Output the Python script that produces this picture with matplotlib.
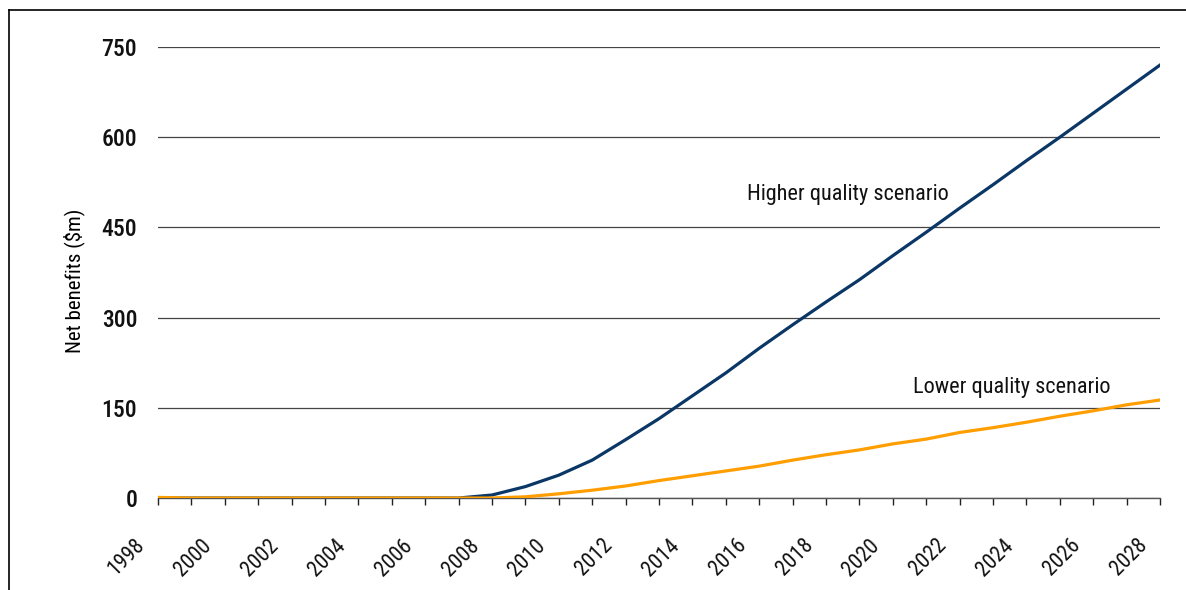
import matplotlib
matplotlib.use("Agg")
import matplotlib.pyplot as plt
from matplotlib.lines import Line2D
from matplotlib.transforms import ScaledTranslation

years = list(range(1998, 2029))

# net benefits by year, $m
higher_quality = [0, 0, 0, 0, 0, 0, 0, 0, 0, 0,
                  5, 19, 38, 63, 97, 132, 170, 208, 249, 288,
                  326, 363, 403, 442, 482, 521, 561, 600, 640, 680, 720]
lower_quality = [1, 0, 0, 0, 0, 0, 0, 0, 0, 0,
                 0, 2, 7, 13, 20, 29, 37, 45, 53, 63,
                 72, 80, 90, 98, 109, 117, 126, 136, 145, 155, 163]

y_ticks = [0, 150, 300, 450, 600, 750]
x_labels = [str(y) if (y - 1998) % 2 == 0 else "" for y in years]

plt.rcParams["font.family"] = ["Roboto Condensed", "DejaVu Sans"]

fig = plt.figure(figsize=(11.86, 5.9), dpi=100)
ax = fig.add_axes([0.1332, 0.1559, 0.8449, 0.7644])

ax.plot(years, higher_quality, color="#0b3766", lw=2.3, zorder=3)
ax.plot(years, lower_quality, color="#ff9e00", lw=2.3, zorder=3)

ax.set_xlim(1998, 2028)
ax.set_ylim(0, 750)
ax.set_yticks(y_ticks)
ax.set_yticklabels([str(v) for v in y_ticks], fontsize=17, fontweight="medium")
ax.tick_params(axis="y", length=0, pad=15, colors="#111111")
ax.yaxis.grid(True, color="#444444", lw=0.9)
ax.set_axisbelow(True)

ax.set_xticks(years)
ax.set_xticklabels(x_labels, rotation=45, ha="right", fontsize=15.5,
                   rotation_mode="anchor", va="center", color="#111111")
ax.tick_params(axis="x", length=5, width=1, color="#222222", pad=27)
shift = ScaledTranslation(-16 / 100, 0, fig.dpi_scale_trans)
for lbl in ax.get_xticklabels():
    lbl.set_transform(lbl.get_transform() + shift)

for side in ["left", "right", "top"]:
    ax.spines[side].set_visible(False)
ax.spines["bottom"].set_color("#555555")
ax.spines["bottom"].set_linewidth(1)

ax.set_ylabel("Net benefits ($m)", fontsize=15)
ax.yaxis.set_label_coords(-0.073, 0.481)

ax.text(2018.66, 504, "Higher quality scenario", fontsize=16,
        ha="center", va="center", color="#111111")
ax.text(2023.57, 183, "Lower quality scenario", fontsize=16,
        ha="center", va="center", color="#111111")

# border along the top and left edges
fig.add_artist(Line2D([9 / 1186, 9 / 1186], [0, 1 - 10 / 590],
                      transform=fig.transFigure, color="black", lw=1.2))
fig.add_artist(Line2D([9 / 1186, 1], [1 - 10 / 590, 1 - 10 / 590],
                      transform=fig.transFigure, color="black", lw=1.2))

fig.savefig("out.png", dpi=100)
